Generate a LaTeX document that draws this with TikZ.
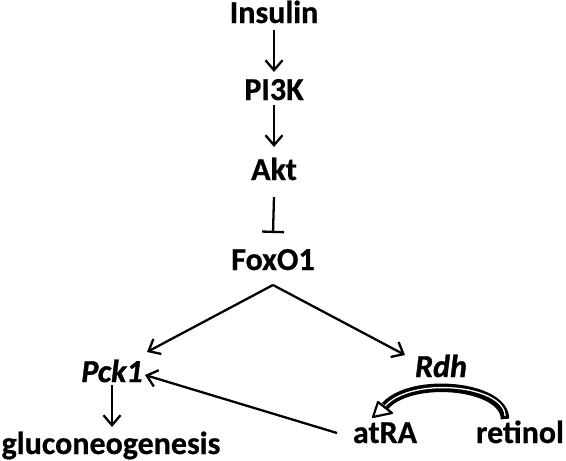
\documentclass[tikz,border=0pt]{standalone}
\usepackage{fontspec}
\setmainfont{Carlito}[BoldFeatures={FakeBold=0.6},BoldItalicFeatures={FakeBold=1.2}]
\usetikzlibrary{arrows.meta}
\tikzset{
  lbl/.style={anchor=base, inner sep=0pt, font=\bfseries\fontsize{32}{38}\selectfont},
  ilbl/.style={lbl, font=\bfseries\itshape\fontsize{32}{38}\selectfont},
  arr/.style={line width=2.3pt, -{Straight Barb[length=10pt,width=17pt,line width=2.3pt]}},
  inh/.style={line width=2.3pt, -{Bar[width=22pt,line width=2.3pt]}},
  bandout/.style={line width=8.5pt},
  bandin/.style={line width=1.3pt, white},
}
\begin{document}
\begin{tikzpicture}[x=1pt,y=-1pt]
\useasboundingbox (0,0) rectangle (566,461);
\node[lbl] (ins) at (274,23) {Insulin};
\node[lbl] (pi3k) at (274,100) {PI3K};
\node[lbl] (akt) at (274,180) {Akt};
\node[lbl] (fox) at (273,270) {FoxO1};
\node[ilbl] (pck) at (112,382) {Pck1};
\node[ilbl] (rdh) at (441,377) {Rdh};
\node[lbl] (glu) at (111,454) {gluconeogenesis};
\node[lbl] (atra) at (385,443) {atRA};
\node[lbl] (ret) at (520,443) {retinol};

\draw[arr] ([shift={(0,7)}]ins.base) -- ([shift={(0,-28)}]pi3k.base);
\draw[arr] ([shift={(0,5)}]pi3k.base) -- ([shift={(0,-33)}]akt.base);
\draw[inh] ([shift={(0,17)}]akt.base) -- ([shift={(0,-37)}]fox.base);
\draw[arr] ([shift={(0,15)}]fox.base) -- ([shift={(35,-30)}]pck.base);
\draw[arr] ([shift={(0,15)}]fox.base) -- ([shift={(-36,-22)}]rdh.base);
\draw[arr] ([shift={(-48,-10)}]atra.base) -- ([shift={(33,-7)}]pck.base);
\draw[arr] ([shift={(0,3)}]pck.base) -- ([shift={(1,-27)}]glu.base);

% curved block arrow (retinol -> atRA)
\draw[bandout] (505,419) .. controls (505,385) and (412,376) .. (385,406);
\draw[bandin] (505,416) .. controls (505,385) and (412,376) .. (385,406);
\draw[line width=2.2pt, fill=white, line join=round] (378,402) -- (392,413) -- (373,417) -- cycle;
\end{tikzpicture}
\end{document}
